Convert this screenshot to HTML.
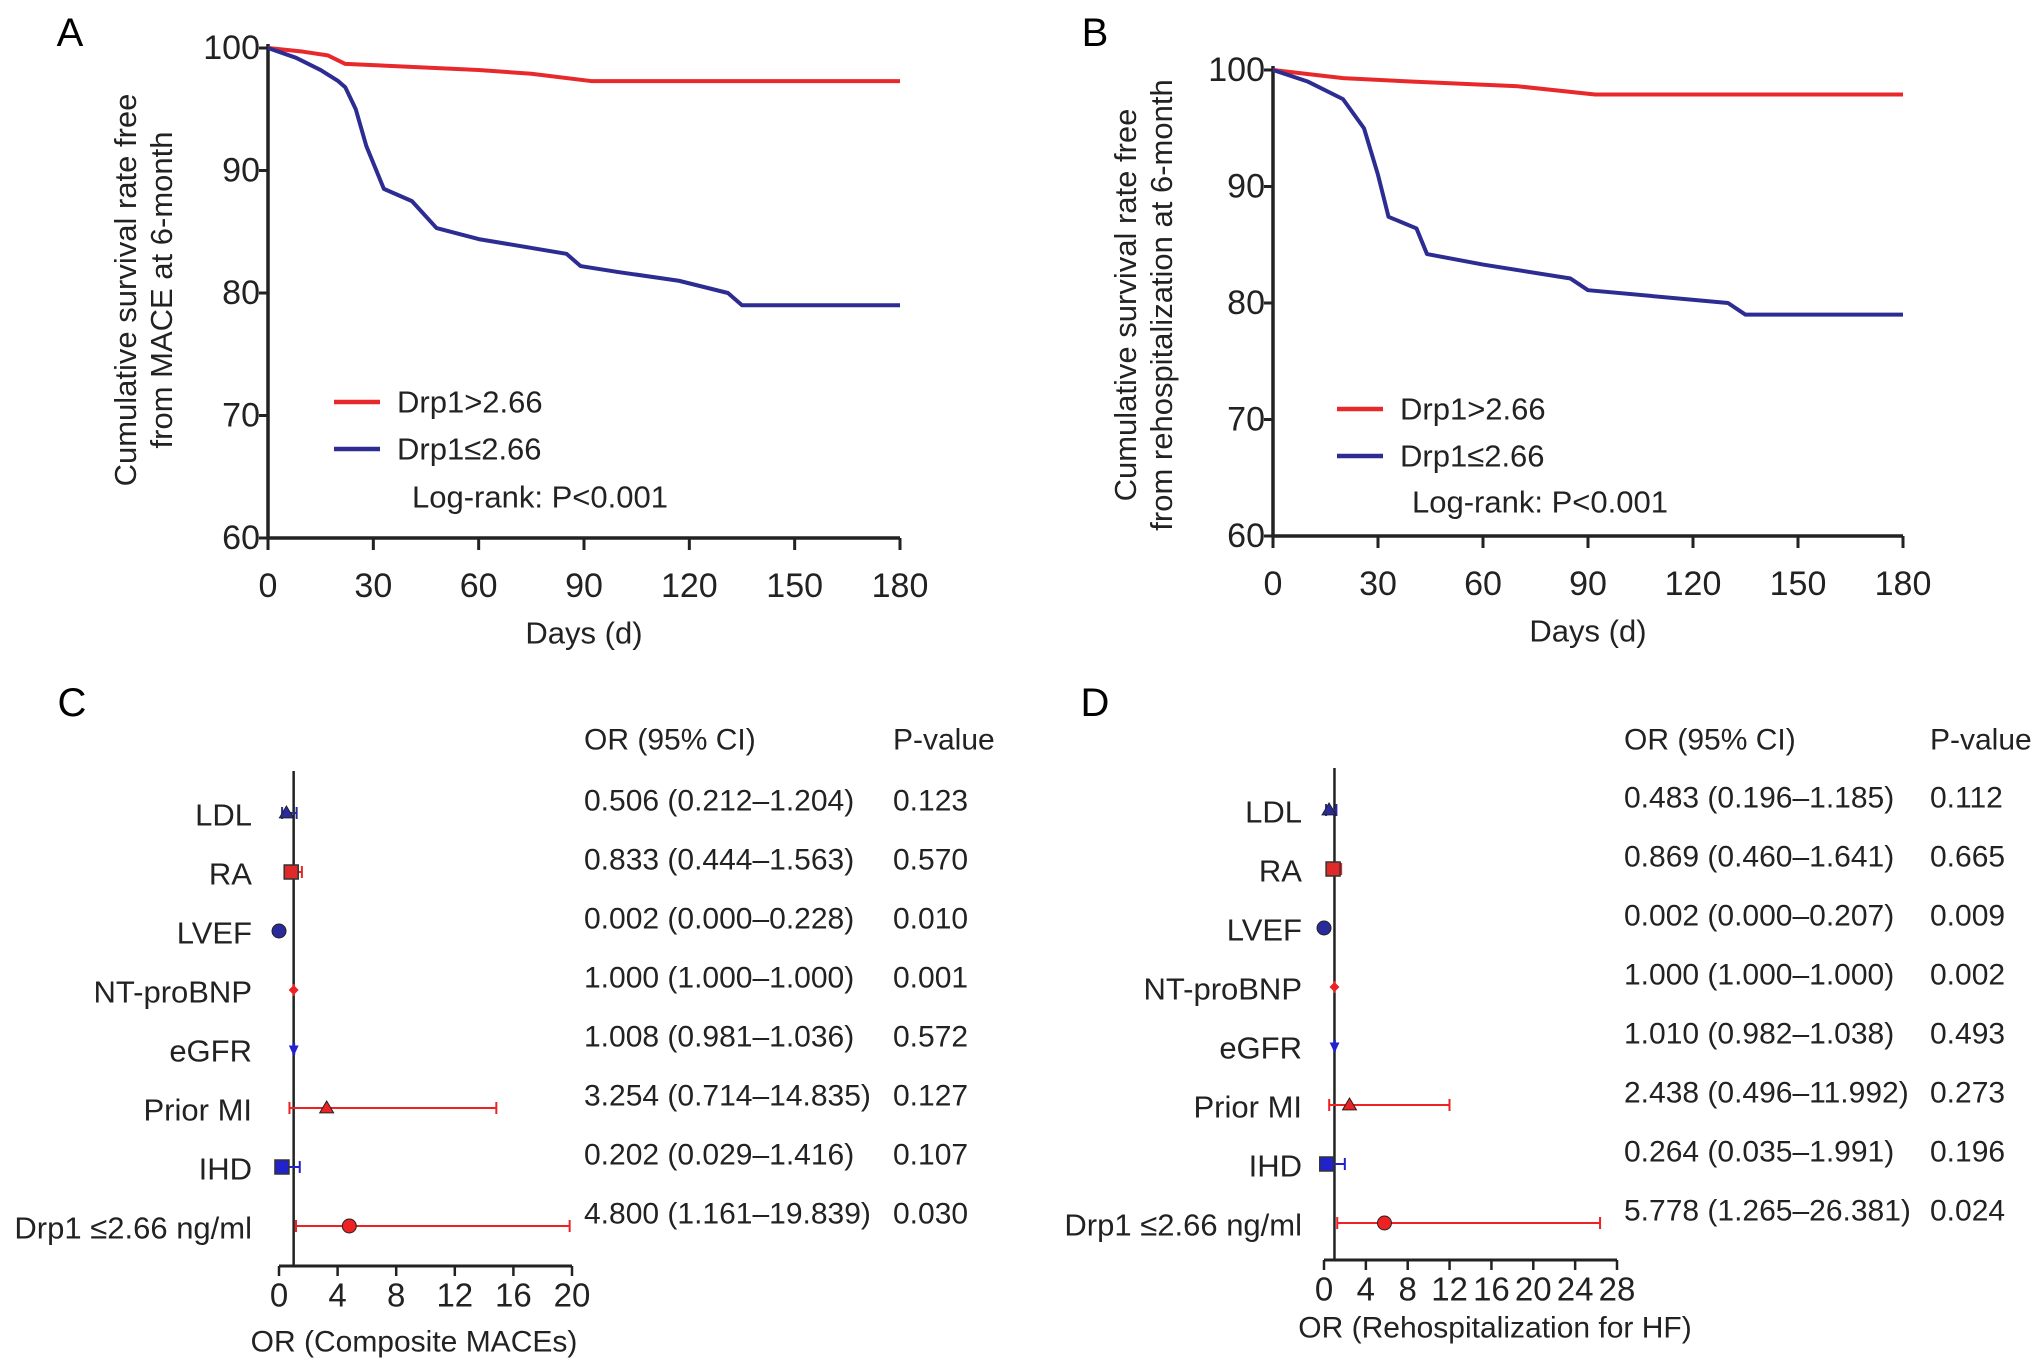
<!DOCTYPE html>
<html><head><meta charset="utf-8"><style>
html,body{margin:0;padding:0;background:#fff;}
svg{display:block;font-family:"Liberation Sans",sans-serif;}
</style></head><body>
<svg id="fig" width="2032" height="1370" viewBox="0 0 2032 1370"></svg>
<script>
// ---- KM data ----
const daysTicks = [0,30,60,90,120,150,180];
const survTicks = [60,70,80,90,100];
const aHighDays = [0,10,17,22,30,60,75,92,180];
const aHighSurv = [100,99.7,99.4,98.7,98.6,98.2,97.9,97.3,97.3];
const aLowDays = [0,8,15,20,22,25,28,33,41,48,60,85,89,100,117,131,135,180];
const aLowSurv = [100,99.2,98.2,97.3,96.8,95,92,88.5,87.5,85.3,84.4,83.2,82.2,81.7,81.0,80.0,79.0,79.0];
const bHighDays = [0,20,40,70,92,180];
const bHighSurv = [100,99.3,99,98.6,97.9,97.9];
const bLowDays = [0,10,20,26,30,33,41,44,60,85,90,130,135,180];
const bLowSurv = [100,99,97.5,95,91,87.4,86.4,84.2,83.3,82.1,81.1,80,79,79];
// ---- Forest data ----
const variables = ["LDL","RA","LVEF","NT-proBNP","eGFR","Prior MI","IHD","Drp1 ≤2.66 ng/ml"];
const cOR = [0.506,0.833,0.002,1.000,1.008,3.254,0.202,4.800];
const cLo = [0.212,0.444,0.000,1.000,0.981,0.714,0.029,1.161];
const cHi = [1.204,1.563,0.228,1.000,1.036,14.835,1.416,19.839];
const cP = ["0.123","0.570","0.010","0.001","0.572","0.127","0.107","0.030"];
const cText = ["0.506 (0.212–1.204)","0.833 (0.444–1.563)","0.002 (0.000–0.228)","1.000 (1.000–1.000)","1.008 (0.981–1.036)","3.254 (0.714–14.835)","0.202 (0.029–1.416)","4.800 (1.161–19.839)"];
const dOR = [0.483,0.869,0.002,1.000,1.010,2.438,0.264,5.778];
const dLo = [0.196,0.460,0.000,1.000,0.982,0.496,0.035,1.265];
const dHi = [1.185,1.641,0.207,1.000,1.038,11.992,1.991,26.381];
const dP = ["0.112","0.665","0.009","0.002","0.493","0.273","0.196","0.024"];
const dText = ["0.483 (0.196–1.185)","0.869 (0.460–1.641)","0.002 (0.000–0.207)","1.000 (1.000–1.000)","1.010 (0.982–1.038)","2.438 (0.496–11.992)","0.264 (0.035–1.991)","5.778 (1.265–26.381)"];
const cTicks = [0,4,8,12,16,20];
const dTicks = [0,4,8,12,16,20,24,28];
const markerShapes = ["tri","sq","circ","dia","dtri","tri","sq","circ"];
const markerColors = ["#2a2a9a","#e02a2a","#2a2a9a","#ee2222","#2222cc","#ee2222","#2222cc","#ee2222"];

const NS="http://www.w3.org/2000/svg";
const svg=document.getElementById('fig');
function el(tag,attrs,parent,text){const e=document.createElementNS(NS,tag);for(const k in attrs)e.setAttribute(k,attrs[k]);if(text!==undefined)e.textContent=text;(parent||svg).appendChild(e);return e;}
const RED="#e8292b", BLUE="#2c2c92";

function km(o){
  const g=el('g',{});
  
  
  const X=d=>o.x0+(d-0)/180*(o.x1-o.x0);
  const Y=v=>o.y1-(v-60)/40*(o.y1-o.y0);
  const lt=el('text',{x:o.lx,y:o.ly,'font-size':40,'text-anchor':'middle','dominant-baseline':'central'},g,o.letter);
  
  const ax=el('path',{d:`M${o.x0},${o.y0-4}V${o.y1}H${o.x1}`,stroke:'#222',fill:'none','stroke-width':3.5},g);
  
  survTicks.forEach(v=>{
    el('line',{x1:o.x0-9,x2:o.x0,y1:Y(v),y2:Y(v),stroke:'#222','stroke-width':3},g);
    const t=el('text',{x:o.x0-8,y:Y(v),'font-size':34,'text-anchor':'end','dominant-baseline':'central',fill:'#222'},g,v);
    
  });
  daysTicks.forEach(d=>{
    el('line',{x1:X(d),x2:X(d),y1:o.y1,y2:o.y1+12,stroke:'#222','stroke-width':3},g);
    const t=el('text',{x:X(d),y:o.y1+48,'font-size':34,'text-anchor':'middle','dominant-baseline':'central',fill:'#222'},g,d);
    
  });
  const xt=el('text',{x:(o.x0+o.x1)/2,y:o.y1+95,'font-size':31,'text-anchor':'middle','dominant-baseline':'central',fill:'#222'},g,'Days (d)');
  
  const yt=el('text',{transform:`translate(${o.tx},${o.ty}) rotate(-90)`,'font-size':31,'text-anchor':'middle',fill:'#222'},g);
  
  el('tspan',{x:0,dy:-4},yt,'Cumulative survival rate free');
  el('tspan',{x:0,dy:36},yt,o.title2);
  const lines=[[o.hd,o.hs,RED,'line-drp1-high'],[o.ld,o.ls,BLUE,'line-drp1-low']];
  lines.forEach(([ds,vs,c,n])=>{
    const p=el('polyline',{points:ds.map((d,i)=>X(d)+','+Y(vs[i])).join(' '),fill:'none',stroke:c,'stroke-width':4,'stroke-linejoin':'round'},g);
    
  });
  [[RED,'Drp1>2.66',o.legY1],[BLUE,'Drp1≤2.66',o.legY2]].forEach(([c,t,y])=>{
    const lg=el('g',{},g);
    
    el('line',{x1:o.legX,x2:o.legX+46,y1:y,y2:y,stroke:c,'stroke-width':4.5},lg);
    el('text',{x:o.legX+63,y:y,'font-size':31,'dominant-baseline':'central',fill:'#222'},lg,t);
  });
  const lr=el('text',{x:o.lrX,y:o.lrY,'font-size':31,'dominant-baseline':'central',fill:'#222'},g,'Log-rank: P<0.001');
  
}
km({name:'panel-a-km',letter:'A',lx:70,ly:33,x0:268,x1:900,y0:48,y1:538,hd:aHighDays,hs:aHighSurv,ld:aLowDays,ls:aLowSurv,tx:140,ty:290,title2:'from MACE at 6-month',legX:334,legY1:402,legY2:449,lrX:412,lrY:497});
km({name:'panel-b-km',letter:'B',lx:1095,ly:33,x0:1273,x1:1903,y0:70,y1:536,hd:bHighDays,hs:bHighSurv,ld:bLowDays,ls:bLowSurv,tx:1140,ty:305,title2:'from rehospitalization at 6-month',legX:1337,legY1:409,legY2:456,lrX:1412,lrY:502});

function marker(g,shape,x,y,c){
  const s=7;let m;
  if(shape==='tri')m=el('polygon',{points:`${x},${y-s} ${x-s},${y+s*0.7} ${x+s},${y+s*0.7}`,fill:c,stroke:'#222','stroke-width':1},g);
  else if(shape==='dtri')m=el('polygon',{points:`${x},${y+s} ${x-s*0.7},${y-s*0.5} ${x+s*0.7},${y-s*0.5}`,fill:c},g);
  else if(shape==='sq')m=el('rect',{x:x-s,y:y-s,width:2*s,height:2*s,fill:c,stroke:'#333','stroke-width':1.5},g);
  else if(shape==='circ')m=el('circle',{cx:x,cy:y,r:s,fill:c,stroke:'#222','stroke-width':1},g);
  else m=el('polygon',{points:`${x},${y-5} ${x+5},${y} ${x},${y+5} ${x-5},${y}`,fill:c},g);
  
}
function forest(o){
  const g=el('g',{});
  
  const X=v=>o.x0+v/o.max*(o.x1-o.x0);
  const rowY=i=>o.r0+i*o.step;
  const lt=el('text',{x:o.lx,y:o.ly,'font-size':40,'text-anchor':'middle','dominant-baseline':'central'},g,o.letter);
  
  const h1=el('text',{x:o.orX,y:740,'font-size':30,'dominant-baseline':'central',fill:'#222'},g,'OR (95% CI)');
  
  const h2=el('text',{x:o.pX,y:740,'font-size':30,'dominant-baseline':'central',fill:'#222'},g,'P-value');
  
  const ref=el('line',{x1:X(1),x2:X(1),y1:o.top,y2:o.axY,stroke:'#222','stroke-width':2.5},g);
  
  const xa=el('line',{x1:X(0),x2:X(o.max),y1:o.axY,y2:o.axY,stroke:'#222','stroke-width':3},g);
  
  o.ticks.forEach(t=>{
    el('line',{x1:X(t),x2:X(t),y1:o.axY,y2:o.axY+10,stroke:'#222','stroke-width':2.5},g);
    const tl=el('text',{x:X(t),y:o.axY+29,'font-size':33,'text-anchor':'middle','dominant-baseline':'central',fill:'#222'},g,t);
    
  });
  const xt=el('text',{x:o.titleX,y:o.titleY,'font-size':30,'text-anchor':'middle','dominant-baseline':'central',fill:'#222'},g,o.title);
  
  variables.forEach((v,i)=>{
    const y=rowY(i);
    const lb=el('text',{x:o.labX,y:y+2,'font-size':31,'text-anchor':'end','dominant-baseline':'central',fill:'#222'},g,v);
    
    const c=markerColors[i];
    const eb=el('path',{d:`M${X(o.lo[i])},${y}H${X(o.hi[i])}M${X(o.lo[i])},${y-6}v12M${X(o.hi[i])},${y-6}v12`,stroke:c,'stroke-width':2,fill:'none'},g);
    
    marker(g,markerShapes[i],X(o.or[i]),y,c);
    const ot=el('text',{x:o.orX,y:y-12,'font-size':30,'dominant-baseline':'central',fill:'#222'},g,o.txt[i]);
    
    const pt=el('text',{x:o.pX,y:y-12,'font-size':30,'dominant-baseline':'central',fill:'#222'},g,o.p[i]);
    
  });
}
forest({name:'panel-c-forest',letter:'C',lx:72,ly:703,x0:279,x1:572,max:20,ticks:cTicks,top:771,axY:1266,r0:813,step:59,labX:252,orX:584,pX:893,or:cOR,lo:cLo,hi:cHi,p:cP,txt:cText,title:'OR (Composite MACEs)',titleX:414,titleY:1342});
forest({name:'panel-d-forest',letter:'D',lx:1095,ly:703,x0:1324,x1:1617,max:28,ticks:dTicks,top:768,axY:1260,r0:810,step:59,labX:1302,orX:1624,pX:1930,or:dOR,lo:dLo,hi:dHi,p:dP,txt:dText,title:'OR (Rehospitalization for HF)',titleX:1495,titleY:1328});
</script>
</body></html>
